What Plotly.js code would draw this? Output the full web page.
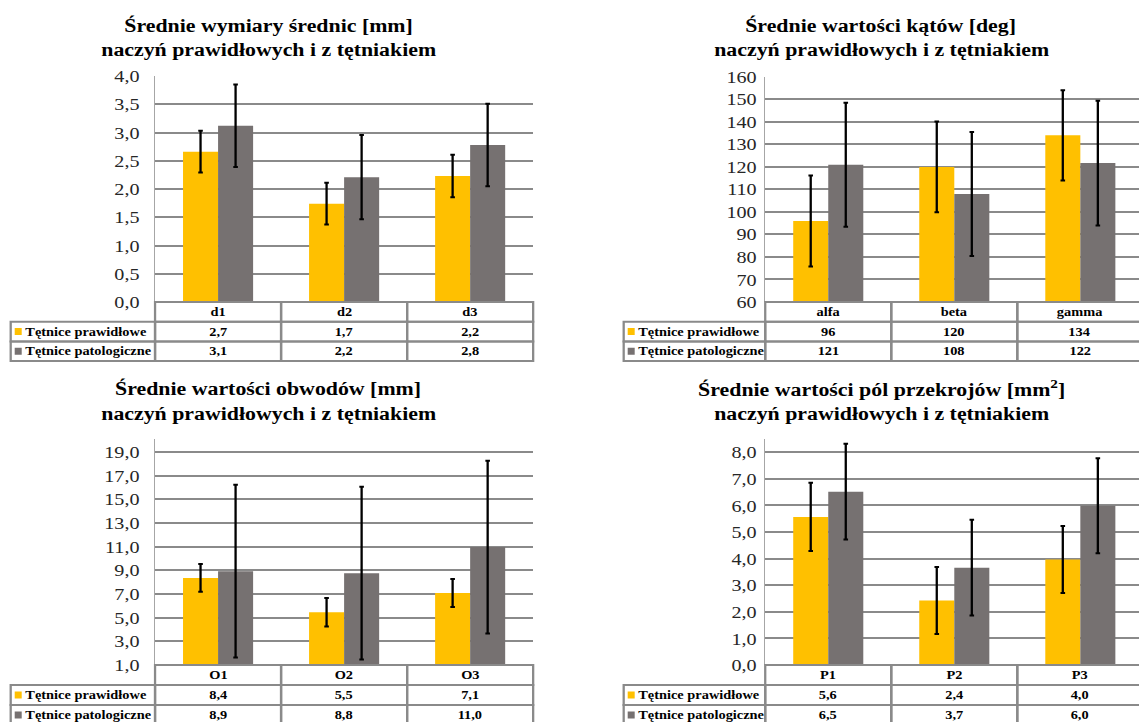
<!DOCTYPE html>
<html>
<head>
<meta charset="utf-8">
<script src="https://cdn.plot.ly/plotly-3.0.1.min.js"></script>
<style>
  html, body { margin: 0; padding: 0; overflow: hidden; background: #fff; }
  #chart { height: 722px; transform-origin: 0 0; }
</style>
</head>
<body>
<div id="chart"></div>
<script>
// ---------------- DATA ----------------
const seriesNames = ['Tętnice prawidłowe', 'Tętnice patologiczne'];

const diamTitle = ['Średnie wymiary średnic [mm]', 'naczyń prawidłowych i z tętniakiem'];
const diamCats = ['d1', 'd2', 'd3'];
const diamNormal = [2.66, 1.74, 2.23];
const diamNormalSd = [0.37, 0.37, 0.375];
const diamPatho = [3.12, 2.21, 2.78];
const diamPathoSd = [0.73, 0.745, 0.73];

const angTitle = ['Średnie wartości kątów [deg]', 'naczyń prawidłowych i z tętniakiem'];
const angCats = ['alfa', 'beta', 'gamma'];
const angNormal = [95.9, 119.9, 133.9];
const angNormalSd = [20.2, 20.1, 20.0];
const angPatho = [120.9, 107.9, 121.6];
const angPathoSd = [27.5, 27.5, 27.7];

const perTitle = ['Średnie wartości obwodów [mm]', 'naczyń prawidłowych i z tętniakiem'];
const perCats = ['O1', 'O2', 'O3'];
const perNormal = [8.36, 5.46, 7.08];
const perNormalSd = [1.17, 1.2, 1.18];
const perPatho = [8.93, 8.76, 10.97];
const perPathoSd = [7.3, 7.3, 7.3];

const areaTitle = ['Średnie wartości pól przekrojów [mm<sup>2</sup>]', 'naczyń prawidłowych i z tętniakiem'];
const areaCats = ['P1', 'P2', 'P3'];
const areaNormal = [5.57, 2.43, 3.97];
const areaNormalSd = [1.28, 1.26, 1.26];
const areaPatho = [6.52, 3.66, 5.99];
const areaPathoSd = [1.8, 1.8, 1.79];

// ---------------- STYLE / LAYOUT ----------------
// The reference figure is horizontally stretched; the chart is drawn narrower and stretched by STRETCH.
const STRETCH = 1.15;
const W = 1160, H = 722;          // target frame (pixels after stretch)
const W0 = W / STRETCH;           // plotly drawing width
const COL_A = '#FFC000', COL_B = '#767171';
const GRID = '#8a8a8a';
const SERIF = 'Liberation Serif';

const panels = [
  {title: diamTitle, cats: diamCats, a: diamNormal, aSd: diamNormalSd, b: diamPatho, bSd: diamPathoSd,
   dec: 1, range: [0, 4], tick0: 0, dtick: 0.5, tickGap: 9,
   plotL: 155, plotR: 533, plotT: 76, plotB: 302, tabT: 302, rowH: 19.7, labL: 10.7, titleX: 268, titleY: [25, 49]},
  {title: angTitle, cats: angCats, a: angNormal, aSd: angNormalSd, b: angPatho, bSd: angPathoSd,
   dec: 0, range: [60, 160], tick0: 60, dtick: 10, tickGap: 3,
   plotL: 765, plotR: 1143, plotT: 76.5, plotB: 302, tabT: 302, rowH: 19.7, labL: 623.5, titleX: 881, titleY: [25, 49]},
  {title: perTitle, cats: perCats, a: perNormal, aSd: perNormalSd, b: perPatho, bSd: perPathoSd,
   dec: 1, range: [1, 20.1], tick0: 1, dtick: 2, tickGap: 9,
   plotL: 155, plotR: 533, plotT: 439, plotB: 665, tabT: 665, rowH: 20, labL: 10.7, titleX: 268, titleY: [388, 413]},
  {title: areaTitle, cats: areaCats, a: areaNormal, aSd: areaNormalSd, b: areaPatho, bSd: areaPathoSd,
   dec: 1, range: [0, 8.5], tick0: 0, dtick: 1, tickGap: 3,
   plotL: 765, plotR: 1143, plotT: 439, plotB: 665, tabT: 665, rowH: 20, labL: 623.5, titleX: 881, titleY: [388, 413]}
];

function fmt(v, dec) { return v.toFixed(dec).replace('.', ','); }

const data = [];
const layout = {
  width: W0, height: H,
  margin: {l: 0, r: 0, t: 0, b: 0},
  paper_bgcolor: '#fff', plot_bgcolor: 'rgba(0,0,0,0)',
  showlegend: false,
  font: {family: SERIF},
  barmode: 'group', bargap: 0.444, bargroupgap: 0,
  separators: ', ',
  shapes: [], annotations: []
};

panels.forEach((p, i) => {
  const n = i + 1, t = i + 5;
  const xa = 'x' + n, ya = 'y' + n, xt = 'x' + t, yt = 'y' + t;
  const catW = (p.plotR - p.plotL) / p.cats.length;
  const vx = px => (px - p.plotL) / catW - 0.5;
  const vy = py => (py - p.tabT) / p.rowH;

  [[p.a, p.aSd, COL_A, seriesNames[0]], [p.b, p.bSd, COL_B, seriesNames[1]]].forEach(([vals, sd, col, nm]) => {
    data.push({
      type: 'bar', name: nm, x: p.cats, y: vals, xaxis: xa, yaxis: ya,
      marker: {color: col, line: {width: 0}},
      error_y: {type: 'data', array: sd, visible: true, color: '#000', thickness: 2, width: 2},
      hoverinfo: 'skip'
    });
  });

  layout['xaxis' + n] = {
    domain: [p.plotL / W, p.plotR / W], anchor: ya, type: 'category',
    range: [-0.5, p.cats.length - 0.5],
    showticklabels: false, showgrid: false, zeroline: false, showline: false, ticks: '', fixedrange: true
  };
  layout['yaxis' + n] = {
    domain: [1 - p.plotB / H, 1 - p.plotT / H], anchor: xa,
    range: p.range, tick0: p.tick0, dtick: p.dtick, tickmode: 'linear',
    tickformat: p.dec ? '.1f' : 'd',
    showgrid: true, gridcolor: GRID, gridwidth: 2, zeroline: false,
    showline: true, linecolor: '#a6a6a6', linewidth: 1,
    ticks: 'outside', ticklen: p.tickGap, tickcolor: 'rgba(0,0,0,0)',
    tickfont: {family: SERIF, size: 17.5, color: '#262626'}, fixedrange: true
  };

  const tL = p.labL - 4, tR = p.plotR + 4;
  const tT = p.tabT - 4, tB = Math.min(p.tabT + 3 * p.rowH + 4, H);
  layout['xaxis' + t] = {domain: [tL / W, Math.min(tR / W, 1)], anchor: yt, range: [vx(tL), vx(Math.min(tR, W))], visible: false, fixedrange: true};
  layout['yaxis' + t] = {domain: [1 - tB / H, 1 - tT / H], anchor: xt, range: [vy(tB), vy(tT)], visible: false, fixedrange: true};

  const cellLine = {color: GRID, width: 2};
  for (let r = 0; r < 3; r++) {
    for (let c = -1; c < p.cats.length; c++) {
      if (r === 0 && c === -1) continue;
      layout.shapes.push({
        type: 'rect', xref: xt, yref: yt,
        x0: c === -1 ? vx(p.labL) : c - 0.5, x1: c === -1 ? -0.5 : c + 0.5,
        y0: r, y1: r + 1, line: cellLine, fillcolor: 'rgba(0,0,0,0)', layer: 'above'
      });
    }
  }
  const tfont = {family: SERIF, size: 12.5, color: '#000'};
  p.cats.forEach((c, k) => {
    layout.annotations.push({xref: xt, yref: yt, x: k, y: 0.5, text: '<b>' + c + '</b>', showarrow: false, font: tfont, xanchor: 'center', yanchor: 'middle'});
    layout.annotations.push({xref: xt, yref: yt, x: k, y: 1.5, text: '<b>' + fmt(p.a[k], p.dec) + '</b>', showarrow: false, font: tfont, xanchor: 'center', yanchor: 'middle'});
    layout.annotations.push({xref: xt, yref: yt, x: k, y: 2.5, text: '<b>' + fmt(p.b[k], p.dec) + '</b>', showarrow: false, font: tfont, xanchor: 'center', yanchor: 'middle'});
  });
  [[COL_A, seriesNames[0]], [COL_B, seriesNames[1]]].forEach(([col, nm], k) => {
    const r = k + 1;
    layout.shapes.push({
      type: 'rect', xref: xt, yref: yt,
      x0: vx(p.labL + 4), x1: vx(p.labL + 11),
      y0: r + 0.5 - 3.5 / p.rowH, y1: r + 0.5 + 3.5 / p.rowH,
      fillcolor: col, line: {width: 0}, layer: 'above'
    });
    layout.annotations.push({xref: xt, yref: yt, x: vx(p.labL + 12.5), y: r + 0.5, text: '<b>' + nm + '</b>',
      showarrow: false, font: tfont, xanchor: 'left', yanchor: 'middle'});
  });

  p.title.forEach((line, k) => {
    layout.annotations.push({xref: 'paper', yref: 'paper', x: p.titleX / W, y: 1 - p.titleY[k] / H,
      text: '<b>' + line + '</b>', showarrow: false, xanchor: 'center', yanchor: 'middle',
      font: {family: SERIF, size: 19, color: '#000'}});
  });
});

const el = document.getElementById('chart');
el.style.width = W0 + 'px';
el.style.transform = 'scaleX(' + STRETCH + ')';
Plotly.newPlot('chart', data, layout, {staticPlot: true, displayModeBar: false});
</script>
</body>
</html>
